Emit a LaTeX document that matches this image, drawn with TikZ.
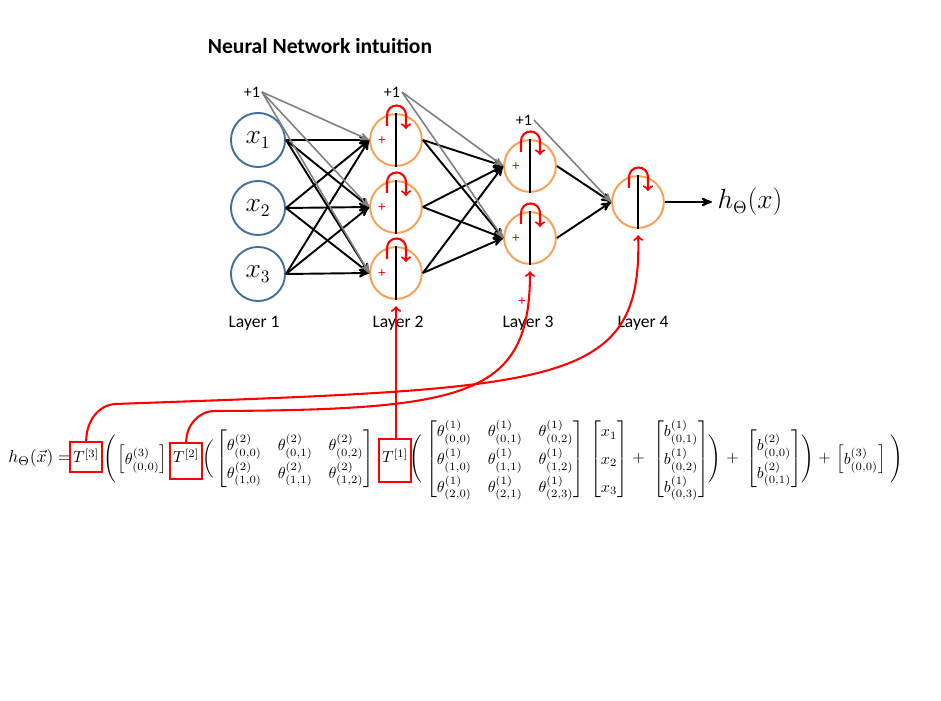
\documentclass[tikz,border=0pt]{standalone}
\usepackage[no-math]{fontspec}
\usepackage{amsmath}
\usetikzlibrary{arrows}
\newfontfamily\calfont{Carlito}
\definecolor{inblue}{RGB}{65,113,156}
\definecolor{unitorange}{RGB}{246,160,82}
\renewcommand{\arraystretch}{1.45}

\begin{document}
\begin{tikzpicture}[x=0.022cm,y=0.022cm,>=stealth',
    input node/.style={circle,draw=inblue,line width=1.2pt,minimum size=1.19cm,
                       inner sep=0pt,font=\fontsize{16}{18}\selectfont},
    unit node/.style={circle,draw=unitorange,line width=1.2pt,minimum size=1.14cm,inner sep=0pt},
    bias/.style={font=\calfont\normalsize,inner sep=1pt},
    layer/.style={font=\calfont\fontsize{11}{13}\selectfont},
    wire/.style={->,line width=1.2pt},
    biaswire/.style={->,line width=1pt,gray},
    feedback/.style={-to,red,line width=1.3pt,shorten >=4pt},
    tbox/.style={draw=red,line width=1.3pt,inner sep=2pt,anchor=base west},
    eq/.style={anchor=base west,inner sep=0pt}]
  \useasboundingbox (0,0) rectangle (941,700);

  \node[font=\calfont\bfseries\fontsize{13.5}{16}\selectfont] (title) at (320,654) {Neural Network intuition};

  % network
  \node[bias] (one1) at (252,608) {+1};
  \node[input node] (x1) at (258,560) {$x_1$};
  \node[input node] (x2) at (258,492) {$x_2$};
  \node[input node] (x3) at (258,426) {$x_3$};

  \node[bias] (one2) at (392,608) {+1};
  \node[unit node] (h21) at (396,560) {};
  \node[unit node] (h22) at (396,493) {};
  \node[unit node] (h23) at (396,427) {};

  \node[bias] (one3) at (524,580) {+1};
  \node[unit node] (h31) at (530,534) {};
  \node[unit node] (h32) at (530,462) {};

  \node[unit node] (h41) at (638,498) {};
  \node[font=\fontsize{16}{18}\selectfont] (hout) at (750,498) {$h_\Theta(x)$};

  \node[layer] (l1) at (254,377) {Layer 1};
  \node[layer] (l2) at (398,377) {Layer 2};
  \node[layer] (l3) at (528,377) {Layer 3};
  \node[layer] (l4) at (643,377) {Layer 4};
  \node[red,font=\calfont\small,inner sep=0pt] (stray) at (522,398) {+};

  \foreach \i in {1,2,3}
    \foreach \j in {1,2,3}
      \draw[wire] (x\i.east) -- (h2\j.west);
  \foreach \j in {1,2,3}
    \draw[biaswire] (one1.east) -- (h2\j.west);
  \foreach \i in {1,2,3}
    \foreach \j in {1,2}
      \draw[wire] (h2\i.east) -- (h3\j.west);
  \foreach \j in {1,2}
    \draw[biaswire] (one2.east) -- (h3\j.west);
  \path (h31.east) edge[wire] (h41.west)
        (h32.east) edge[wire] (h41.west)
        (one3.east) edge[biaswire] (h41.west)
        (h41.east) edge[wire] (hout.west);

  \foreach \u in {h21,h22,h23,h31,h32,h41}{
    \draw[line width=1.2pt] (\u.north) -- (\u.south);
    \draw[feedback,shorten >=0pt] ([shift={(-9,14)}]\u.center) -- ++(0,11)
      arc[start angle=180,end angle=0,radius=9.5] -- ++(0,-14);
  }
  \foreach \u in {h21,h22,h23,h31,h32}
    \node[red,font=\calfont\small,inner sep=0pt] at ([shift={(-14,-1)}]\u.center) {+};

  % equation
  \node[eq,font=\fontsize{11}{13}\selectfont] (lhs) at (8,237) {$h_\Theta(\vec{x}) =$};
  \node[tbox,text height=11pt,text depth=3.5pt] (T3) at (69,237) {$T^{[3]}$};
  \node[eq] (p1) at (103,237) {$\Bigg($};
  \node[eq] (th3) at (117,237) {$\begin{bmatrix}\theta^{(3)}_{(0,0)}\end{bmatrix}$};
  \node[tbox,text height=10.5pt,text depth=8pt] (T2) at (169,237) {$T^{[2]}$};
  \node[eq] (p2) at (202,237) {$\bigg($};
  \node[eq] (th2) at (216,237) {$\begin{bmatrix}
      \theta^{(2)}_{(0,0)} & \theta^{(2)}_{(0,1)} & \theta^{(2)}_{(0,2)}\\
      \theta^{(2)}_{(1,0)} & \theta^{(2)}_{(1,1)} & \theta^{(2)}_{(1,2)}
    \end{bmatrix}$};
  \node[tbox,text height=13pt,text depth=10pt] (T1) at (378,237) {$T^{[1]}$};
  \node[eq] (p3) at (409,237) {$\Bigg($};
  \node[eq] (th1) at (426,237) {$\begin{bmatrix}
      \theta^{(1)}_{(0,0)} & \theta^{(1)}_{(0,1)} & \theta^{(1)}_{(0,2)}\\
      \theta^{(1)}_{(1,0)} & \theta^{(1)}_{(1,1)} & \theta^{(1)}_{(1,2)}\\
      \theta^{(1)}_{(2,0)} & \theta^{(1)}_{(2,1)} & \theta^{(1)}_{(2,3)}
    \end{bmatrix}$};
  \node[eq] (xv) at (590,237) {$\begin{bmatrix}x_1\\x_2\\x_3\end{bmatrix}$};
  \node[eq] (pl1) at (632,237) {$+$};
  \node[eq] (bv1) at (653,237) {$\begin{bmatrix}b^{(1)}_{(0,1)}\\b^{(1)}_{(0,2)}\\b^{(1)}_{(0,3)}\end{bmatrix}$};
  \node[eq] (q1) at (708,237) {$\Bigg)$};
  \node[eq] (pl2) at (726,237) {$+$};
  \node[eq] (bv2) at (746,237) {$\begin{bmatrix}b^{(2)}_{(0,0)}\\b^{(2)}_{(0,1)}\end{bmatrix}$};
  \node[eq] (q2) at (801,237) {$\Bigg)$};
  \node[eq] (pl3) at (818,237) {$+$};
  \node[eq] (bv3) at (836,237) {$\begin{bmatrix}b^{(3)}_{(0,0)}\end{bmatrix}$};
  \node[eq] (q3) at (890,237) {$\Bigg)$};

  % feedback arrows from the equation to the units
  \draw[feedback] (h23.south |- T1.north) -- (h23.south);
  \draw[feedback] (T2.north) to[out=90,in=180] (215,289)
    .. controls (470,290) and (530,305) .. (h32.south);
  \draw[feedback] (T3.north) to[out=90,in=185] (115,296)
    .. controls (560,312) and (642,312) .. (h41.south);
\end{tikzpicture}
\end{document}
